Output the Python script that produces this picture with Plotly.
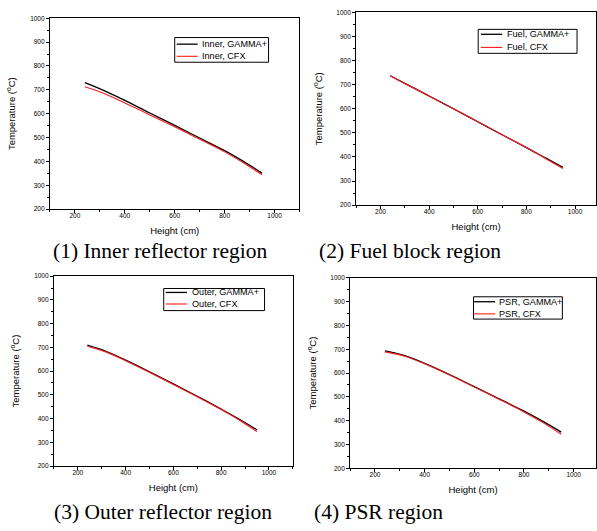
import plotly.graph_objects as go

W, H = 597, 531

# ---- data ----
height_cm = [240, 310, 400, 500, 600, 700, 800, 880, 950]
height_cm_b = [240, 320, 400, 500, 600, 700, 800, 880, 950]

inner_gamma = [730, 700, 656, 603, 551, 498, 445, 397, 351]
inner_cfx = [713, 688, 645, 595, 545, 493, 440, 391, 344]

fuel_gamma = [737, 700, 653, 600, 546, 492, 439, 395, 357]
fuel_cfx = [737, 700, 653, 600, 546, 492, 439, 393, 352]

outer_gamma = [709, 682, 646, 597, 546, 494, 440, 395, 352]
outer_cfx = [705, 680, 644, 595, 544, 492, 438, 391, 345]

psr_gamma = [693, 673, 641, 594, 543, 492, 440, 395, 352]
psr_cfx = [689, 671, 639, 592, 541, 490, 437, 390, 343]

names = ["Inner", "Fuel", "Outer", "PSR"]
captions = ["(1) Inner reflector region", "(2) Fuel block region",
            "(3) Outer reflector region", "(4) PSR region"]
x_tick_vals = [200, 400, 600, 800, 1000]
y_tick_vals = [200, 300, 400, 500, 600, 700, 800, 900, 1000]

panels = [
    (height_cm, inner_gamma, inner_cfx),
    (height_cm, fuel_gamma, fuel_cfx),
    (height_cm_b, outer_gamma, outer_cfx),
    (height_cm_b, psr_gamma, psr_cfx),
]

# ---- layout geometry (pixels) ----
# (left, right, top, bottom, xmax)
geo = [
    (50, 300, 14.3, 208, 1100),
    (356.7, 597, 8.3, 204, 1086),
    (54, 293.3, 275.7, 468.3, 1100),
    (350.7, 597, 277.3, 470.7, 1090),
]
# legend box: (x0, y0, x1, y1, row1_y, row2_y, sample_x0, sample_x1, text_x)
legend_geo = [
    (175, 34, 269, 59, 40.7, 53, 177, 198, 200),
    (479, 25.7, 578, 50, 30.7, 44, 481.7, 503, 505.7),
    (164, 288.3, 265, 310.7, 292.3, 304, 166, 187.3, 190),
    (474.3, 296.7, 563.3, 319.3, 301.7, 314, 475, 496, 498),
]
caption_pos = [(161, 250), (411, 250), (163, 515), (379, 515)]

GAMMA_STYLE = dict(color="black", width=1.3)
CFX_STYLE = dict(color="#ff1a1a", width=1.1)

fig = go.Figure()
layout = dict(
    width=W, height=H, margin=dict(l=0, r=0, t=0, b=0),
    paper_bgcolor="white", plot_bgcolor="white", showlegend=False,
    font=dict(family="Liberation Sans, Arial, sans-serif", color="black"),
)
annotations = []
shapes = []


def px(x):
    return x / W


def py(y):
    return 1 - y / H


for i, ((xs, g, c), (l, r, t, b, xmax)) in enumerate(zip(panels, geo)):
    k = "" if i == 0 else str(i + 1)
    gname = f"{names[i]}, GAMMA+"
    cname = f"{names[i]}, CFX"
    fig.add_trace(go.Scatter(x=xs, y=g, mode="lines", name=gname, line=GAMMA_STYLE,
                             line_shape="spline", xaxis=f"x{k}", yaxis=f"y{k}"))
    fig.add_trace(go.Scatter(x=xs, y=c, mode="lines", name=cname, line=CFX_STYLE,
                             line_shape="spline", xaxis=f"x{k}", yaxis=f"y{k}"))
    axis_common = dict(showline=True, linecolor="black", linewidth=1, mirror=True,
                       ticks="outside", ticklen=3, tickwidth=1, tickcolor="black",
                       showgrid=False, zeroline=False,
                       tickfont=dict(size=6.5, family="Liberation Sans, Arial"))
    layout[f"xaxis{k}"] = dict(
        axis_common, domain=[px(l), px(r)], range=[100, xmax],
        tickvals=x_tick_vals, anchor=f"y{k}", ticklabelstandoff=-3,
        minor=dict(ticks="outside", ticklen=2, dtick=100, tick0=0, tickcolor="black"),
        title=dict(text="Height (cm)", font=dict(size=9.5), standoff=9),
    )
    layout[f"yaxis{k}"] = dict(
        axis_common, domain=[py(b), py(t)], range=[199.5, 1000.5],
        tickvals=y_tick_vals, anchor=f"x{k}",
        minor=dict(ticks="outside", ticklen=2, dtick=50, tick0=0, tickcolor="black"),
        title=dict(text="Temperature (<sup>o</sup>C)", font=dict(size=9.5), standoff=12),
    )

    # legend box drawn in paper coordinates
    x0, y0, x1, y1, r1, r2, s0, s1, tx = legend_geo[i]
    shapes.append(dict(type="rect", xref="paper", yref="paper",
                       x0=px(x0), x1=px(x1), y0=py(y1), y1=py(y0),
                       line=dict(color="black", width=1), fillcolor="white", layer="above"))
    for ry, style, label in ((r1, GAMMA_STYLE, gname), (r2, CFX_STYLE, cname)):
        shapes.append(dict(type="line", xref="paper", yref="paper",
                           x0=px(s0), x1=px(s1), y0=py(ry), y1=py(ry),
                           line=style, layer="above"))
        annotations.append(dict(x=px(tx), y=py(ry), xref="paper", yref="paper",
                                xanchor="left", yanchor="middle", text=label,
                                showarrow=False,
                                font=dict(size=9.1, family="Liberation Sans, Arial",
                                          color="black")))

    cx, cy = caption_pos[i]
    annotations.append(dict(x=px(cx), y=py(cy), xref="paper", yref="paper",
                            xanchor="center", yanchor="middle",
                            text=captions[i], showarrow=False,
                            font=dict(family="Liberation Serif, Times New Roman, serif",
                                      size=21.5, color="black")))

layout["annotations"] = annotations
layout["shapes"] = shapes
fig.update_layout(**layout)
fig.write_html("out.html", config={"displayModeBar": False},
               post_script="document.body.style.margin='0';document.body.style.overflow='hidden';")
